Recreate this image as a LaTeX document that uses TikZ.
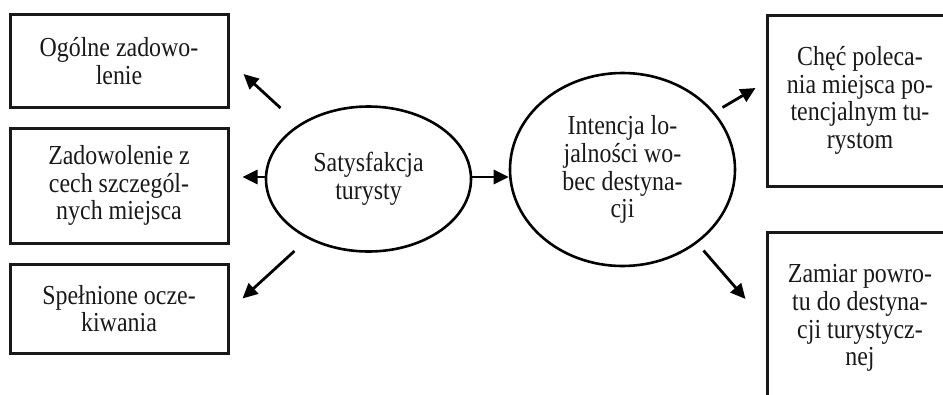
\documentclass[tikz,border=0pt]{standalone}
\usepackage{fontspec}
\setmainfont[FakeStretch=0.87]{Liberation Serif}
\usetikzlibrary{shapes.geometric,arrows.meta,calc}
\begin{document}
\begin{tikzpicture}[x=1pt,y=-1pt,
  every node/.style={font=\fontsize{27.5}{27.8}\selectfont, text=black!90, align=center, inner sep=0pt},
  boxnode/.style={draw=black!90, line width=3pt, rectangle},
  ellnode/.style={draw=black, line width=2.6pt, ellipse},
  arr/.style={line width=2.8pt, -{Triangle[length=15pt,width=14pt]}}]
\useasboundingbox (0,0) rectangle (943,394);
\clip (0,0) rectangle (943,394);
% left boxes
\node[boxnode, minimum width=218, minimum height=93] (b1) at (119,61) {Ogólne zadowo-\\lenie};
\node[boxnode, minimum width=218, minimum height=115] (b2) at (119,185.5) {Zadowolenie z\\cech szczegól-\\nych miejsca};
\node[boxnode, minimum width=218, minimum height=89] (b3) at (119,308.5) {Spełnione ocze-\\kiwania};
% ellipses
\node[ellnode, minimum width=205, minimum height=145] (sat) at (368.5,179) {Satysfakcja\\turysty};
\node[ellnode, minimum width=225, minimum height=193] (int) at (622.5,169.5) {Intencja lo-\\jalności wo-\\bec destyna-\\cji};
% right boxes (cut by picture edge)
\node[boxnode, minimum width=186, minimum height=171] (b4) at (860,100.5) {Chęć poleca-\\nia miejsca po-\\tencjalnym tu-\\rystom};
\node[boxnode, minimum width=186, minimum height=172] (b5) at (860,318) {Zamiar powro-\\tu do destyna-\\cji turystycz-\\nej};
% connectors
\coordinate (t1) at ($(sat.center)+(-88,-71)$);
\coordinate (t3) at ($(sat.center)+(-74,72)$);
\coordinate (t4) at ($(int.center)+(100,-62)$);
\coordinate (t5) at ($(int.center)+(81,81)$);
\draw[arr] (t1) -- ($(b1.east)+(14,13)$);
\draw[arr] (sat.west |- 0,177) -- ($(b2.east |- 0,177)+(13,0)$);
\draw[arr] (t3) -- ($(b3.east)+(13,-10)$);
\draw[arr] (sat.east |- 0,177) -- (int.west |- 0,177);
\draw[arr] (t4) -- ($(b4.west |- 0,88)+(-10,0)$);
\draw[arr] (t5) -- ($(b5.west |- 0,299)+(-20,0)$);
\end{tikzpicture}
\end{document}
